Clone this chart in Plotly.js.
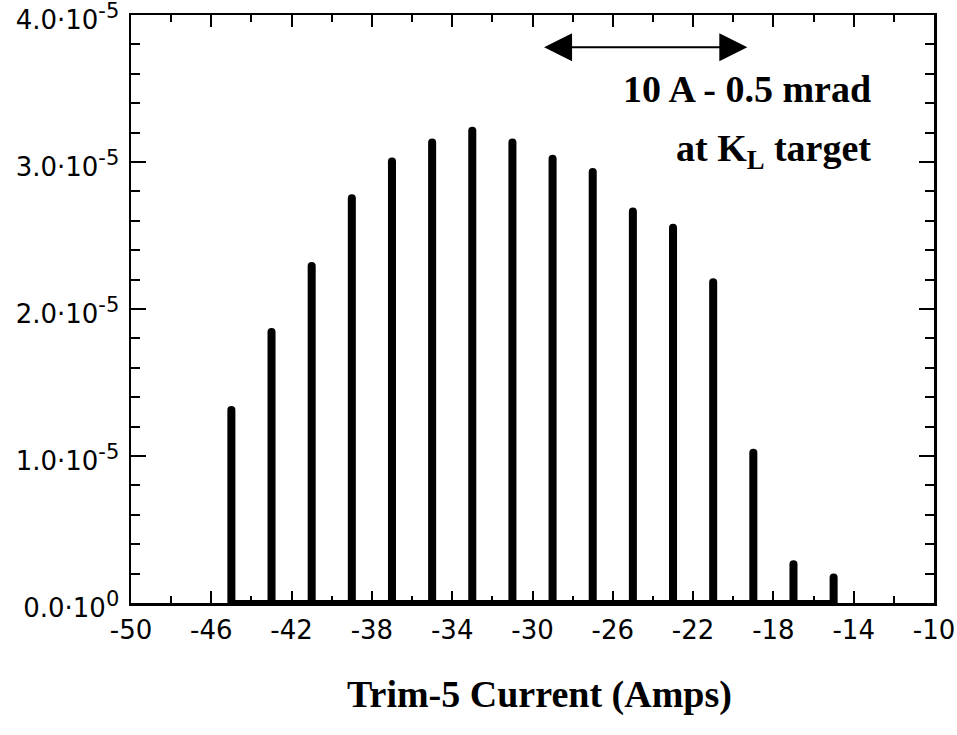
<!DOCTYPE html>
<html>
<head>
<meta charset="utf-8">
<script src="https://cdn.plot.ly/plotly-3.0.1.min.js"></script>
<style>html,body{margin:0;padding:0;background:#fff;}#chart{width:957px;height:735px;}</style>
</head>
<body>
<div id="chart"></div>
<script>
// Data
const currents = [-45, -43, -41, -39, -37, -35, -33, -31, -29, -27, -25, -23, -21, -19, -17, -15];
const yields = [1.34e-5, 1.87e-5, 2.32e-5, 2.78e-5, 3.03e-5, 3.16e-5, 3.24e-5, 3.16e-5, 3.05e-5, 2.96e-5, 2.69e-5, 2.58e-5, 2.21e-5, 1.05e-5, 0.29e-5, 0.20e-5];
const yTickVals = [0, 1e-5, 2e-5, 3e-5, 4e-5];
const yTickMant = ['0.0', '1.0', '2.0', '3.0', '4.0'];
const yTickExp = ['0', '-5', '-5', '-5', '-5'];
const xTickVals = [-50, -46, -42, -38, -34, -30, -26, -22, -18, -14, -10];
const xTickText = ['-50', '-46', '-42', '-38', '-34', '-30', '-26', '-22', '-18', '-14', '-10'];
const arrowSpan = [-29.5, -19.3];
const baseline = [currents[0], currents[currents.length - 1]];

const yTickText = yTickMant.map((m, i) => m + '·10<sup><span style="font-size:21px">' + yTickExp[i] + '</span></sup>');

const traces = [
  {
    type: 'bar', x: currents, y: yields, width: 0.4,
    marker: {color: '#000', line: {width: 0}},
    hoverinfo: 'x+y'
  },
  {
    type: 'scatter', mode: 'lines', x: baseline, y: [0, 0],
    line: {color: '#000', width: 6}, cliponaxis: false, hoverinfo: 'skip'
  }
];

const sans = 'DejaVu Sans, Arial, sans-serif';
const serif = 'Liberation Serif, Times New Roman, serif';

const layout = {
  width: 957, height: 735,
  margin: {l: 131, r: 23, t: 15, b: 132},
  paper_bgcolor: '#fff', plot_bgcolor: '#fff',
  showlegend: false,
  barcornerradius: 4,
  xaxis: {
    range: [-50, -10], tickvals: xTickVals, ticktext: xTickText, ticks: 'inside', ticklen: 12, tickwidth: 2,
    tickcolor: '#000', showline: true, linecolor: '#000', linewidth: 2.5, mirror: 'ticks',
    showgrid: false, zeroline: false, tickfont: {family: sans, size: 26, color: '#000'},
    ticklabelstandoff: 2, ticklabeloverflow: 'allow',
    minor: {dtick: 2, tick0: -50, ticks: 'inside', ticklen: 7, tickwidth: 2, tickcolor: '#000', showgrid: false}
  },
  yaxis: {
    range: [0, 4.00001e-5], tickvals: yTickVals, ticktext: yTickText, ticks: 'inside', ticklen: 15, tickwidth: 2,
    tickcolor: '#000', showline: true, linecolor: '#000', linewidth: 2.5, mirror: 'ticks',
    showgrid: false, zeroline: false, tickfont: {family: sans, size: 26, color: '#000'},
    ticklabelstandoff: 4, ticklabelshift: 5, ticklabeloverflow: 'allow',
    minor: {dtick: 0.2e-5, tick0: 0, ticks: 'inside', ticklen: 9, tickwidth: 2, tickcolor: '#000', showgrid: false}
  },
  annotations: [
    {
      xref: 'paper', yref: 'paper', x: 0.509, y: -0.155, xanchor: 'center', yanchor: 'middle',
      text: '<b>Trim-5 Current (Amps)</b>', showarrow: false,
      font: {family: serif, size: 38, color: '#000'}
    },
    {
      xref: 'paper', yref: 'paper', x: 0.924, y: 0.874, xanchor: 'right', yanchor: 'middle',
      text: '<b>10 A - 0.5 mrad</b>', showarrow: false,
      font: {family: serif, size: 38, color: '#000'}
    },
    {
      xref: 'paper', yref: 'paper', x: 0.924, y: 0.769, xanchor: 'right', yanchor: 'middle',
      text: '<b>at K<sub>L</sub> target</b>', showarrow: false,
      font: {family: serif, size: 38, color: '#000'}
    },
    {
      xref: 'x', yref: 'y', axref: 'x', ayref: 'y',
      x: arrowSpan[1], y: 3.78e-5, ax: arrowSpan[0], ay: 3.78e-5,
      text: '', showarrow: true, arrowhead: 2, startarrowhead: 2, arrowside: 'end+start',
      arrowwidth: 2, arrowsize: 2.8, startarrowsize: 2.8, arrowcolor: '#000',
      standoff: 0, startstandoff: 0
    }
  ]
};

Plotly.newPlot('chart', traces, layout, {staticPlot: true});
</script>
</body>
</html>
